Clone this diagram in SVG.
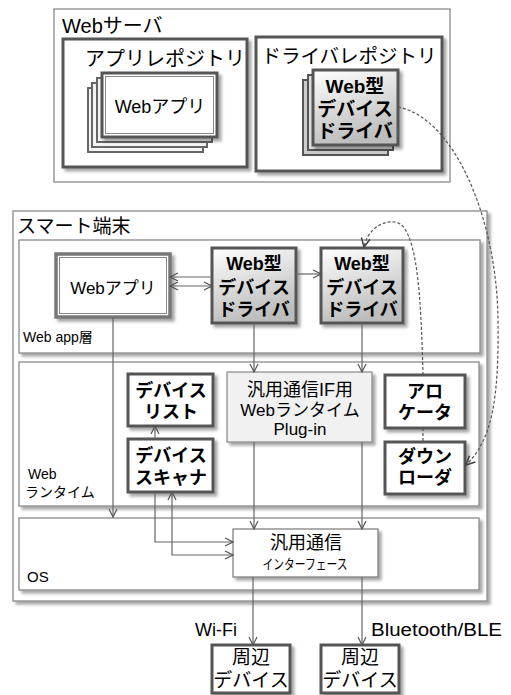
<svg xmlns="http://www.w3.org/2000/svg" width="511" height="695" viewBox="0 0 511 695">
<defs>
<filter id="sh" x="-10%" y="-10%" width="130%" height="130%">
<feDropShadow dx="3" dy="3" stdDeviation="1.8" flood-color="#000" flood-opacity="0.35"/>
</filter>
<linearGradient id="grad" x1="0" y1="0" x2="0.3" y2="1">
<stop offset="0" stop-color="#ffffff"/>
<stop offset="1" stop-color="#bdbdbd"/>
</linearGradient>
<marker id="ah" viewBox="0 0 10 10" refX="9" refY="5" markerWidth="10" markerHeight="10" markerUnits="userSpaceOnUse" orient="auto-start-reverse">
<path d="M1,1 L9,5 L1,9" fill="none" stroke="#555" stroke-width="1.2"/>
</marker>
<marker id="ahd" viewBox="0 0 10 10" refX="9" refY="5" markerWidth="11" markerHeight="11" markerUnits="userSpaceOnUse" orient="auto">
<path d="M1,1 L9,5 L1,9" fill="none" stroke="#444" stroke-width="1.4"/>
</marker>
</defs>
<style>
text{font-family:"Liberation Sans","Noto Sans CJK JP",sans-serif;fill:#000}
.b{font-weight:bold}
.mid{text-anchor:middle}
.layer{fill:#fff;stroke:#8a8a8a;stroke-width:1.3}
.node{fill:#fff;stroke:#555;stroke-width:3}
.drv{fill:url(#grad);stroke:#555;stroke-width:3}
.back{fill:#f4f4f4;stroke:#666;stroke-width:2}
.inner{fill:none;stroke:#888;stroke-width:1}
.c{fill:none;stroke:#666;stroke-width:1.2}
.d{fill:none;stroke:#555;stroke-width:1.2;stroke-dasharray:3,2}
</style>

<g id="webserver">
<rect x="54" y="9" width="396" height="173" fill="#fff" stroke="#8a8a8a" stroke-width="1.3"/>
<text x="62" y="33" font-size="20">Webサーバ</text>
</g>

<g id="app-repository">
<rect class="node" x="63" y="39" width="184" height="128" filter="url(#sh)"/>
<text class="mid" x="165" y="66" font-size="20">アプリレポジトリ</text>
<rect class="back" x="88" y="88" width="115" height="64"/>
<rect class="back" x="92" y="83" width="115" height="64"/>
<rect class="back" x="97" y="78" width="115" height="64"/>
<rect class="node" x="102" y="73" width="115" height="64" filter="url(#sh)"/>
<rect class="inner" x="105.5" y="76.5" width="108" height="57"/>
<text class="mid" x="160" y="113" font-size="18">Webアプリ</text>
</g>

<g id="driver-repository">
<rect class="node" x="256" y="37" width="186" height="134" filter="url(#sh)"/>
<text class="mid" x="349" y="63" font-size="19.5">ドライバレポジトリ</text>
<rect x="303" y="80" width="85" height="75" fill="#ccc" stroke="#555" stroke-width="2"/>
<rect x="308" y="75" width="85" height="75" fill="#ddd" stroke="#555" stroke-width="2"/>
<rect class="drv" x="313" y="70" width="85" height="75" filter="url(#sh)"/>
<text class="mid b" x="355" y="93" font-size="19">Web型</text>
<text class="mid b" x="355" y="116" font-size="19">デバイス</text>
<text class="mid b" x="355" y="138" font-size="19">ドライバ</text>
</g>

<g id="smart-terminal">
<rect x="13" y="211" width="474" height="390" fill="#fff" stroke="#8a8a8a" stroke-width="1.3" filter="url(#sh)"/>
<text x="17" y="233" font-size="19">スマート端末</text>
</g>

<g id="webapp-layer">
<rect class="layer" x="19" y="240" width="461" height="113" filter="url(#sh)"/>
<text x="23" y="342" font-size="14">Web app層</text>
</g>

<g id="runtime-layer">
<rect class="layer" x="19" y="362" width="460" height="144" filter="url(#sh)"/>
<text x="28" y="479" font-size="14">Web</text>
<text x="25" y="497" font-size="14">ランタイム</text>
</g>

<g id="os-layer">
<rect class="layer" x="19" y="518" width="460" height="72" filter="url(#sh)"/>
<text x="27" y="582" font-size="15">OS</text>
</g>

<g id="webapp">
<rect x="56" y="254" width="114" height="63" fill="#fff" stroke="#777" stroke-width="3.5" filter="url(#sh)"/>
<rect class="inner" x="59.5" y="257.5" width="107" height="56"/>
<text class="mid" x="113" y="294" font-size="17">Webアプリ</text>
</g>

<g id="driver1">
<rect class="drv" x="212" y="248" width="84" height="75" filter="url(#sh)"/>
<text class="mid b" x="254" y="270" font-size="18">Web型</text>
<text class="mid b" x="254" y="294" font-size="18">デバイス</text>
<text class="mid b" x="254" y="316" font-size="18">ドライバ</text>
</g>

<g id="driver2">
<rect class="drv" x="321" y="248" width="82" height="75" filter="url(#sh)"/>
<text class="mid b" x="362" y="270" font-size="18">Web型</text>
<text class="mid b" x="362" y="294" font-size="18">デバイス</text>
<text class="mid b" x="362" y="316" font-size="18">ドライバ</text>
</g>

<g id="device-list">
<rect class="node" x="128" y="374" width="85" height="52" filter="url(#sh)"/>
<text class="mid b" x="171" y="397" font-size="18">デバイス</text>
<text class="mid b" x="171" y="418" font-size="18">リスト</text>
</g>

<g id="device-scanner">
<rect class="node" x="128" y="439" width="85" height="53" filter="url(#sh)"/>
<text class="mid b" x="171" y="462" font-size="18">デバイス</text>
<text class="mid b" x="171" y="484" font-size="18">スキャナ</text>
</g>

<g id="plugin">
<rect x="227" y="372" width="145" height="70" fill="#f1f1f1" stroke="#888" stroke-width="1.2" filter="url(#sh)"/>
<text class="mid" x="300" y="396" font-size="18">汎用通信IF用</text>
<text class="mid" x="300" y="416" font-size="17">Webランタイム</text>
<text class="mid" x="300" y="435" font-size="17">Plug-in</text>
</g>

<g id="allocator">
<rect class="node" x="385" y="375" width="80" height="53" filter="url(#sh)"/>
<text class="mid b" x="425" y="398" font-size="18">アロ</text>
<text class="mid b" x="425" y="419" font-size="18">ケータ</text>
</g>

<g id="downloader">
<rect class="node" x="385" y="442" width="80" height="52" filter="url(#sh)"/>
<text class="mid b" x="425" y="463" font-size="18">ダウン</text>
<text class="mid b" x="425" y="484" font-size="18">ローダ</text>
</g>

<g id="comm-interface">
<rect x="233" y="529" width="145" height="48" fill="#fff" stroke="#777" stroke-width="1.2" filter="url(#sh)"/>
<text class="mid" x="306" y="549" font-size="18">汎用通信</text>
<text class="mid" x="305" y="569" font-size="14" textLength="85" lengthAdjust="spacingAndGlyphs">インターフェース</text>
</g>

<g id="peripheral1">
<rect class="node" x="212" y="645" width="78" height="48" filter="url(#sh)"/>
<text class="mid" x="251" y="664" font-size="19">周辺</text>
<text class="mid" x="251" y="687" font-size="19">デバイス</text>
</g>

<g id="peripheral2">
<rect class="node" x="321" y="645" width="78" height="48" filter="url(#sh)"/>
<text class="mid" x="360" y="664" font-size="19">周辺</text>
<text class="mid" x="360" y="687" font-size="19">デバイス</text>
</g>

<g id="connectors">
<path class="c" d="M212,277 L170,277" marker-end="url(#ah)"/>
<path class="c" d="M170,286 L212,286" marker-start="url(#ah)" marker-end="url(#ah)"/>
<path class="c" d="M296,274 L321,274" marker-end="url(#ah)"/>
<path class="c" d="M113,317 L113,517" marker-end="url(#ah)"/>
<path class="c" d="M254,323 L254,372" marker-end="url(#ah)"/>
<path class="c" d="M362,323 L362,372" marker-end="url(#ah)"/>
<path class="c" d="M254,442 L254,529" marker-end="url(#ah)"/>
<path class="c" d="M362,442 L362,529" marker-end="url(#ah)"/>
<path class="c" d="M155,439 L155,426" marker-end="url(#ah)"/>
<path class="c" d="M155,492 L155,542 L233,542" marker-end="url(#ah)"/>
<path class="c" d="M172,492 L172,555 L233,555" marker-start="url(#ah)" marker-end="url(#ah)"/>
<path class="c" d="M253,577 L253,645" marker-end="url(#ah)"/>
<path class="c" d="M362,577 L362,645" marker-end="url(#ah)"/>
<path class="d" d="M398,107 C455,118 497,220 498,320 C499,400 492,440 466,465" marker-end="url(#ahd)"/>
<path class="d" d="M423,375 C421,300 418,225 395,222 C380,220 367,232 364,247" marker-end="url(#ahd)"/>
<path class="d" d="M423,428 L423,442"/>
<text x="195" y="636" font-size="18">Wi-Fi</text>
<text x="371" y="636" font-size="18" textLength="131" lengthAdjust="spacingAndGlyphs">Bluetooth/BLE</text>
</g>
</svg>
